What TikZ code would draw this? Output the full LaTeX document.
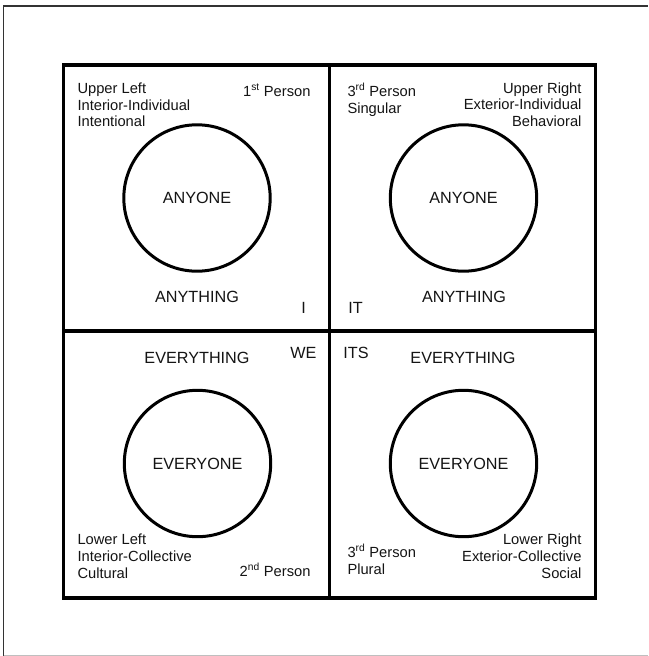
\documentclass[tikz,border=0pt]{standalone}
\usepackage{fontspec}
\setmainfont{Liberation Sans}
\definecolor{txt}{HTML}{141414}
\tikzset{
  lbl/.style={font=\fontsize{14.7}{17}\selectfont, text=txt, inner sep=0pt},
  big/.style={font=\fontsize{16.2}{19}\selectfont, text=txt, inner sep=0pt},
  ring/.style={circle, draw=black, line width=3pt, minimum size=146.4pt, inner sep=0pt, font=\fontsize{16.2}{19}\selectfont, text=txt},
  boxline/.style={line width=3.4pt, draw=black}
}
\begin{document}
\begin{tikzpicture}[x=1pt,y=-1pt]
\useasboundingbox (0,0) rectangle (648,656);
\fill[white] (0,0) rectangle (648,656);
% outer frame
\draw[line width=1.8pt, black!80] (3.5,656) -- (3.5,5.7) -- (648,5.7);
\draw[line width=1pt, black!25] (3.5,655.3) -- (648,655.3);
% quadrant box
\coordinate (tl) at (63.5,65);
\coordinate (br) at (595.5,598);
\coordinate (mt) at (329.5,65);
\coordinate (mb) at (329.5,598);
\coordinate (ml) at (63.5,331);
\coordinate (mr) at (595.5,331);
\draw[boxline] (tl) rectangle (br);
\draw[boxline] (mt) -- (mb);
\draw[boxline] (ml) -- (mr);
% circles
\node[ring] (cul) at (197,198) {ANYONE};
\node[ring] (cur) at (463.5,198) {ANYONE};
\node[ring] (cll) at (197.5,463.5) {EVERYONE};
\node[ring] (clr) at (463.5,463.5) {EVERYONE};
% central words
\node[big] (athl) at (197,297) {ANYTHING};
\node[big] (athr) at (464,297) {ANYTHING};
\node[big] (ethl) at (197,358) {EVERYTHING};
\node[big] (ethr) at (463,358) {EVERYTHING};
\node[big] (wi) at (303.5,308.3) {I};
\node[big] (wit) at (355.5,308.3) {IT};
\node[big] (wwe) at (303.5,353) {WE};
\node[big] (wits) at (356,353) {ITS};
% upper left
\node[lbl, anchor=base west] (ul1) at (77.3,93.3) {Upper Left};
\node[lbl, anchor=base west] (ul2) at (77.3,110) {Interior-Individual};
\node[lbl, anchor=base west] (ul3) at (77.3,126.7) {Intentional};
\node[lbl, anchor=base east] (ulp) at (310.7,96) {1\textsuperscript{st} Person};
% upper right
\node[lbl, anchor=base west] (urp1) at (347.3,96) {3\textsuperscript{rd} Person};
\node[lbl, anchor=base west] (urp2) at (347.3,113) {Singular};
\node[lbl, anchor=base east] (ur1) at (581.7,93) {Upper Right};
\node[lbl, anchor=base east] (ur2) at (581.7,109.5) {Exterior-Individual};
\node[lbl, anchor=base east] (ur3) at (581.7,126.3) {Behavioral};
% lower left
\node[lbl, anchor=base west] (ll1) at (77.3,544) {Lower Left};
\node[lbl, anchor=base west] (ll2) at (77.3,561.5) {Interior-Collective};
\node[lbl, anchor=base west] (ll3) at (77.3,578.5) {Cultural};
\node[lbl, anchor=base east] (llp) at (310.7,576) {2\textsuperscript{nd} Person};
% lower right
\node[lbl, anchor=base west] (lrp1) at (347.3,557) {3\textsuperscript{rd} Person};
\node[lbl, anchor=base west] (lrp2) at (347.3,574) {Plural};
\node[lbl, anchor=base east] (lr1) at (581.7,544) {Lower Right};
\node[lbl, anchor=base east] (lr2) at (581.7,561.5) {Exterior-Collective};
\node[lbl, anchor=base east] (lr3) at (581.7,578.5) {Social};
\end{tikzpicture}
\end{document}
